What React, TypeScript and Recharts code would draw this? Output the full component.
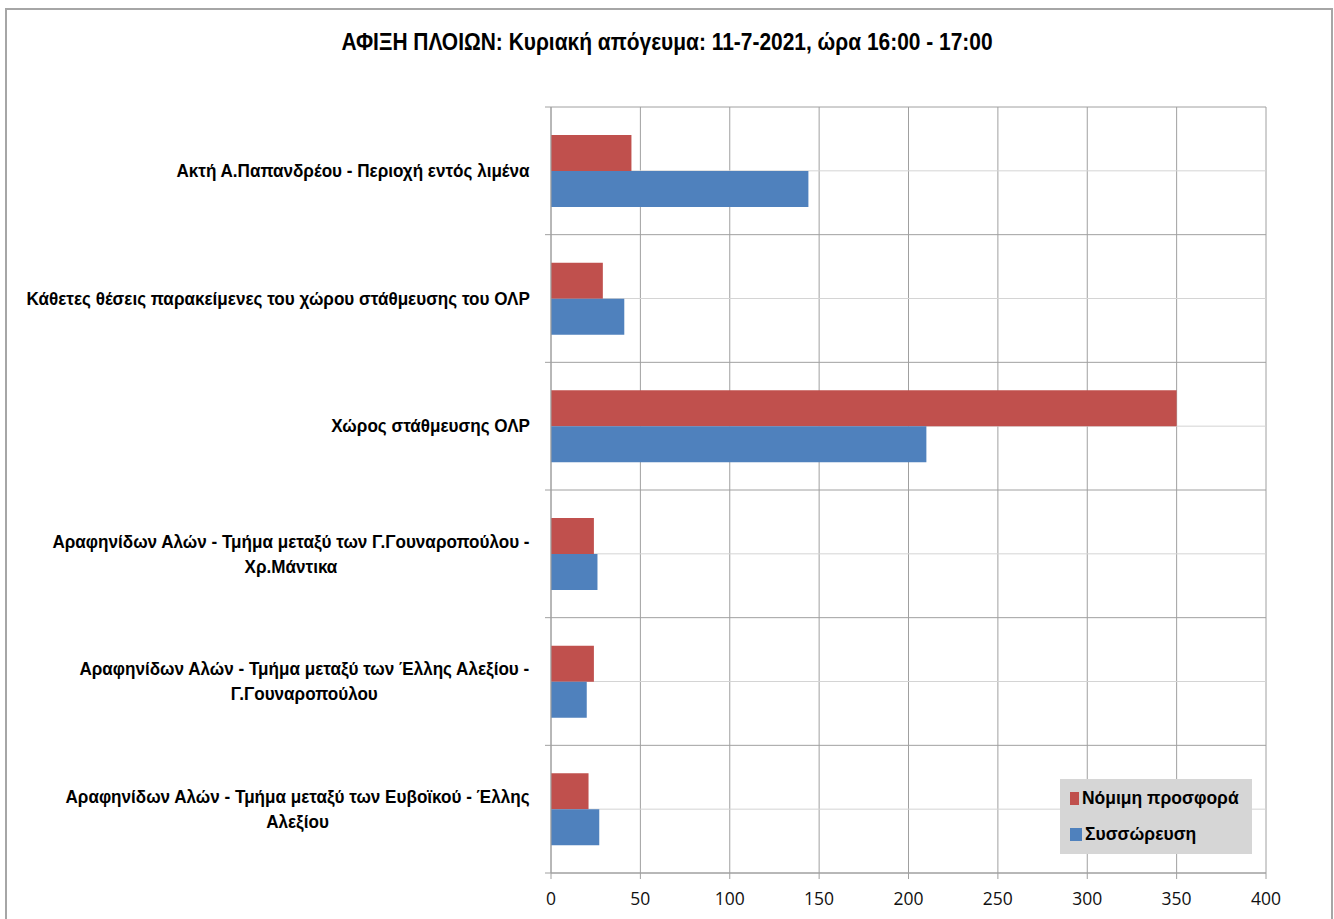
import React from 'react';
import { BarChart, Bar, XAxis, YAxis, CartesianGrid, Legend } from 'recharts';

// categories top to bottom, as on the chart
const categories = [
  'Ακτή Α.Παπανδρέου - Περιοχή εντός λιμένα',
  'Κάθετες θέσεις παρακείμενες του χώρου στάθμευσης του ΟΛΡ',
  'Χώρος στάθμευσης ΟΛΡ',
  'Αραφηνίδων Αλών - Τμήμα μεταξύ των Γ.Γουναροπούλου - Χρ.Μάντικα',
  'Αραφηνίδων Αλών - Τμήμα μεταξύ των Έλλης Αλεξίου - Γ.Γουναροπούλου',
  'Αραφηνίδων Αλών - Τμήμα μεταξύ των Ευβοϊκού - Έλλης Αλεξίου',
];
const nomimiProsfora = [45, 29, 350, 24, 24, 21];
const syssoreusi = [144, 41, 210, 26, 20, 27];
const xTicks = [0, 50, 100, 150, 200, 250, 300, 350, 400];

const TITLE = 'ΑΦΙΞΗ ΠΛΟΙΩΝ: Κυριακή απόγευμα: 11-7-2021, ώρα 16:00 - 17:00';
const SERIES_RED = 'Νόμιμη προσφορά';
const SERIES_BLUE = 'Συσσώρευση';

const FONT = "'Liberation Sans', Arial, sans-serif";
const LABEL_SIZE = 19;
const SX = 0.9; // the reference text is horizontally narrow
const GRID = '#a0a0a0';

const data = categories.map((name, i) => ({
  name,
  nomimi: nomimiProsfora[i],
  syssoreusi: syssoreusi[i],
}));

let ctx: CanvasRenderingContext2D | null = null;
function textWidth(s: string): number {
  if (!ctx) ctx = document.createElement('canvas').getContext('2d');
  ctx!.font = `bold ${LABEL_SIZE}px ${FONT}`;
  return ctx!.measureText(s).width * SX;
}

function wrap(label: string, maxW: number): string[] {
  const words = label.split(' ');
  const lines: string[] = [];
  let cur = '';
  for (const w of words) {
    const test = cur ? cur + ' ' + w : w;
    if (cur && textWidth(test) > maxW) {
      lines.push(cur);
      cur = w;
    } else {
      cur = test;
    }
  }
  if (cur) lines.push(cur);
  return lines;
}

function CategoryTick(props: any) {
  const { x, y, payload } = props;
  const lines = wrap(payload.value, 515);
  const blockW = Math.max(...lines.map(textWidth));
  const cx = x - blockW / 2;
  return (
    <g>
      {lines.map((l, i) => (
        <text
          key={i}
          x={0}
          y={0}
          transform={`translate(${cx},${y + (i - (lines.length - 1) / 2) * 25}) scale(${SX},1)`}
          textAnchor="middle"
          dominantBaseline="central"
          fontFamily={FONT}
          fontWeight="bold"
          fontSize={LABEL_SIZE}
          fill="#000"
        >
          {l}
        </text>
      ))}
    </g>
  );
}

function LegendBox(props: any) {
  const { payload } = props;
  return (
    <div
      style={{
        background: '#d6d6d6',
        width: 192,
        height: 75,
        boxSizing: 'border-box',
        padding: '1px 0 0 10px',
      }}
    >
      {(payload || []).map((p: any) => (
        <div key={p.value} style={{ display: 'flex', alignItems: 'center', height: 36 }}>
          <span style={{ width: 12, height: 13, background: p.color, display: 'inline-block' }} />
          <span
            style={{
              marginLeft: 3,
              fontFamily: FONT,
              fontWeight: 'bold',
              fontSize: 19,
              color: '#000',
              display: 'inline-block',
              transform: 'scaleX(0.92)',
              transformOrigin: 'left center',
              whiteSpace: 'nowrap',
            }}
          >
            {p.value}
          </span>
        </div>
      ))}
    </div>
  );
}

export default function App() {
  return (
    <div
      style={{
        position: 'absolute',
        left: 0,
        top: 0,
        width: 1334,
        height: 919,
        overflow: 'hidden',
        background: '#fff',
      }}
    >
      <div
        style={{
          position: 'absolute',
          left: 5,
          top: 8,
          width: 1324,
          height: 960,
          border: '2px solid #a6a6a6',
        }}
      />
      <div
        style={{
          position: 'absolute',
          left: 0,
          top: 29,
          width: 1334,
          textAlign: 'center',
          fontFamily: FONT,
          fontWeight: 'bold',
          fontSize: 23,
          transform: 'scaleX(0.91)',
          color: '#000',
        }}
      >
        {TITLE}
      </div>
      <BarChart
        width={1334}
        height={919}
        data={data}
        layout="vertical"
        barGap={0}
        margin={{ top: 107, right: 68, bottom: 0, left: 0 }}
      >
        <CartesianGrid vertical stroke={GRID} horizontal={false} />
        <CartesianGrid
          vertical={false}
          horizontalCoordinatesGenerator={({ offset }: any) => {
            const step = offset.height / categories.length;
            return Array.from({ length: categories.length * 2 + 1 }, (_, i) => offset.top + (i * step) / 2);
          }}
          horizontal={(p: any) => {
            const boundary = Math.round((p.y1 - 107) / 64) % 2 === 0;
            return (
              <line
                key={`h-${p.index}`}
                x1={boundary ? p.x1 - 6 : p.x1}
                x2={p.x2}
                y1={p.y1}
                y2={p.y2}
                stroke={boundary ? GRID : '#d4d4d4'}
                strokeWidth={1}
              />
            );
          }}
        />
        <XAxis
          type="number"
          domain={[0, 400]}
          ticks={xTicks}
          interval={0}
          height={46}
          tickSize={6}
          tickMargin={14}
          axisLine={{ stroke: GRID }}
          tickLine={{ stroke: GRID }}
          tick={{ fontFamily: "'Open Sans', sans-serif", fontSize: 17.5, fill: '#111' }}
        />
        <YAxis
          type="category"
          dataKey="name"
          width={551}
          interval={0}
          tickSize={0}
          tickMargin={21}
          tickLine={false}
          axisLine={{ stroke: GRID }}
          tick={<CategoryTick />}
        />
        <Legend
          layout="horizontal"
          verticalAlign="middle"
          align="center"
          wrapperStyle={{ left: 1060, top: 779, width: 192 }}
          content={<LegendBox />}
        />
        <Bar dataKey="nomimi" name={SERIES_RED} fill="#C0504D" barSize={36} isAnimationActive={false} />
        <Bar dataKey="syssoreusi" name={SERIES_BLUE} fill="#4F81BD" barSize={36} isAnimationActive={false} />
      </BarChart>
    </div>
  );
}
